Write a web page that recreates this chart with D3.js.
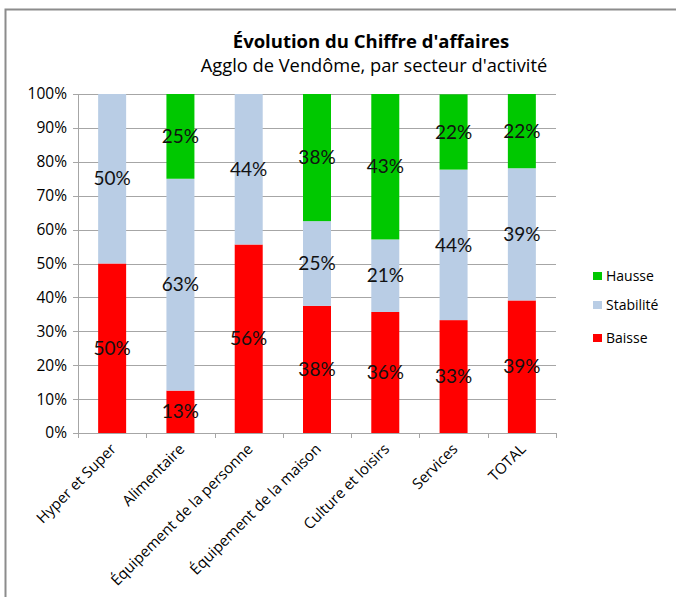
<!DOCTYPE html>
<html>
<head>
<meta charset="utf-8">
<script src="https://cdn.jsdelivr.net/npm/d3@7"></script>
<style>
body { margin: 0; background: #fff; }
text { font-family: "Open Sans", Lato, sans-serif; }
</style>
</head>
<body>
<div id="chart"></div>
<script>
// categories and values (percent of respondents)
var secteurs = ["Hyper et Super", "Alimentaire", "Équipement de la personne", "Équipement de la maison", "Culture et loisirs", "Services", "TOTAL"];
var baisse = [50, 12.5, 55.6, 37.5, 35.7, 33.3, 39.1];
var stabilite = [50, 62.5, 44.4, 25, 21.4, 44.4, 39.0];
var hausse = [0, 25, 0, 37.5, 42.9, 22.2, 21.9];
var yTicks = [0, 10, 20, 30, 40, 50, 60, 70, 80, 90, 100];

var series = [
	{name: "Baisse", vals: baisse, color: "#ff0000"},
	{name: "Stabilité", vals: stabilite, color: "#b9cde5"},
	{name: "Hausse", vals: hausse, color: "#00c800"}
];

var W = 676, H = 597;
var margin = {top: 94, right: 120, bottom: 164, left: 78},
	width = 556 - margin.left,
	height = 433 - margin.top;

var svg = d3.select("#chart").append("svg")
	.attr("width", W)
	.attr("height", H);

// outer frame
svg.append("rect")
	.attr("x", 5.5).attr("y", 9.5)
	.attr("width", W + 10).attr("height", H + 10)
	.attr("fill", "none")
	.attr("stroke", "#8c8c8c")
	.attr("stroke-width", 2);

svg.append("text")
	.attr("x", 371).attr("y", 48)
	.attr("text-anchor", "middle")
	.style("font-size", "18.5px")
	.style("font-weight", "bold")
	.text("Évolution du Chiffre d'affaires");
svg.append("text")
	.attr("x", 374).attr("y", 72)
	.attr("text-anchor", "middle")
	.style("font-size", "18.3px")
	.text("Agglo de Vendôme, par secteur d'activité");

var g = svg.append("g")
	.attr("transform", "translate(" + margin.left + "," + margin.top + ")");

var x = d3.scaleBand()
	.domain(secteurs)
	.range([0, width])
	.paddingInner(0.59)
	.paddingOuter(0.295);
var y = d3.scaleLinear()
	.domain([0, 100])
	.range([height, 0]);

// gridlines
g.selectAll(".grid")
	.data(yTicks)
	.enter().append("line")
	.attr("x1", -5).attr("x2", width)
	.attr("y1", function(d){ return Math.round(y(d)) + 0.5; })
	.attr("y2", function(d){ return Math.round(y(d)) + 0.5; })
	.attr("stroke", "#a6a6a6");

// y axis
var yAxis = g.append("g")
	.call(d3.axisLeft(y).tickValues(yTicks).tickSize(0).tickPadding(11)
		.tickFormat(function(d){ return d + "%"; }));
yAxis.select(".domain").attr("stroke", "#a6a6a6");
yAxis.selectAll("text").style("font-size", "15.5px").attr("fill", "#000");

// x axis
var xAxis = g.append("g")
	.attr("transform", "translate(0," + height + ")")
	.call(d3.axisBottom(x).tickSize(0).tickFormat(""));
xAxis.select(".domain").attr("stroke", "#a6a6a6");
var step = x.step();
xAxis.selectAll(".sep")
	.data(d3.range(secteurs.length + 1))
	.enter().append("line")
	.attr("x1", function(i){ return Math.round(i * step) + 0.5; })
	.attr("x2", function(i){ return Math.round(i * step) + 0.5; })
	.attr("y1", 0).attr("y2", 5)
	.attr("stroke", "#a6a6a6");

g.selectAll(".xlab")
	.data(secteurs)
	.enter().append("text")
	.attr("class", "xlab")
	.attr("transform", function(d){
		return "translate(" + (x(d) + x.bandwidth() / 2 + 5) + "," + (height + 17) + ") rotate(-45)";
	})
	.attr("text-anchor", "end")
	.style("font-size", "15px")
	.text(function(d){ return d; });

// stacked bars
var rows = secteurs.map(function(s, i){
	return {secteur: s, Baisse: baisse[i], "Stabilité": stabilite[i], Hausse: hausse[i]};
});
var stack = d3.stack().keys(series.map(function(s){ return s.name; }))(rows);

var layers = g.selectAll(".layer")
	.data(stack)
	.enter().append("g")
	.attr("fill", function(d, i){ return series[i].color; });

layers.selectAll("rect")
	.data(function(d){ return d; })
	.enter().append("rect")
	.attr("x", function(d){ return x(d.data.secteur); })
	.attr("width", x.bandwidth())
	.attr("y", function(d){ return y(d[1]); })
	.attr("height", function(d){ return y(d[0]) - y(d[1]); });

layers.selectAll(".lbl")
	.data(function(d){ return d.filter(function(p){ return p[1] - p[0] > 0; }); })
	.enter().append("text")
	.attr("class", "lbl")
	.attr("x", function(d){ return x(d.data.secteur) + x.bandwidth() / 2; })
	.attr("y", function(d){ return y((d[0] + d[1]) / 2); })
	.attr("dy", "0.35em")
	.attr("text-anchor", "middle")
	.attr("fill", "#111")
	.style("font-family", "Lato, sans-serif")
	.style("font-size", "19px")
	.text(function(d){ return Math.round(d[1] - d[0]) + "%"; });

// legend
var leg = svg.append("g").attr("transform", "translate(593,0)");
var legItems = series.slice().reverse();
var legY = [276, 305, 338];
legItems.forEach(function(s, i){
	leg.append("rect")
		.attr("x", 0).attr("y", legY[i] - 4)
		.attr("width", 9).attr("height", 8)
		.attr("fill", s.color);
	leg.append("text")
		.attr("x", 13).attr("y", legY[i])
		.attr("dy", "0.35em")
		.style("font-size", "14px")
		.text(s.name);
});
</script>
</body>
</html>
